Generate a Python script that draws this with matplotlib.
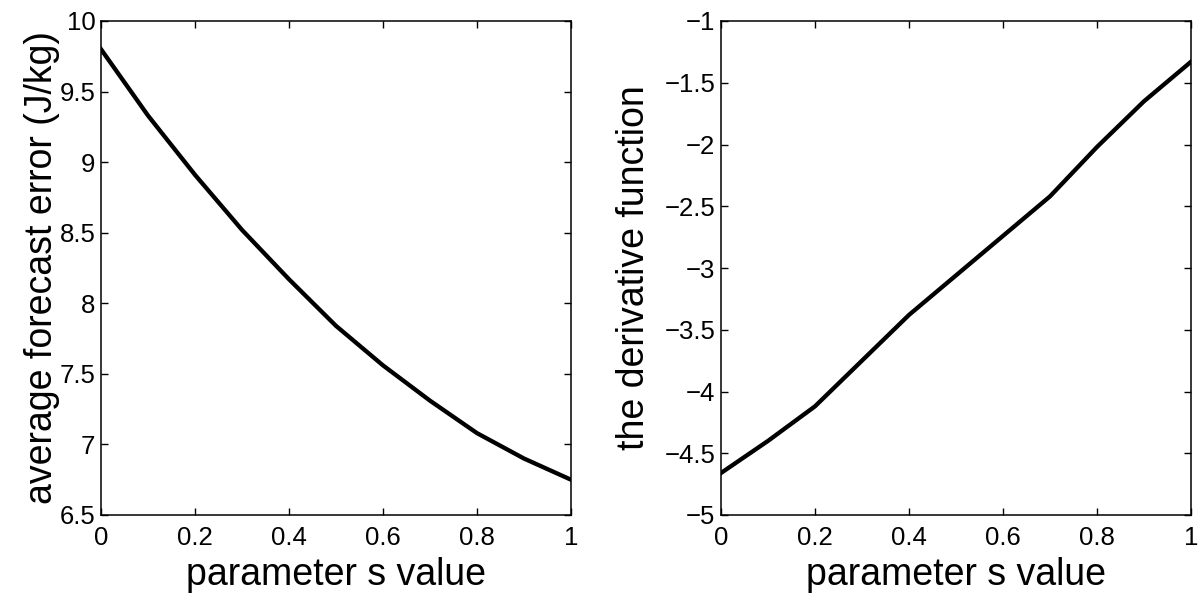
import matplotlib.pyplot as plt

plt.rcParams["font.family"] = ["Liberation Sans", "DejaVu Sans"]

s_values = [0.0, 0.1, 0.2, 0.3, 0.4, 0.5, 0.6, 0.7, 0.8, 0.9, 1.0]
forecast_error = [9.80, 9.33, 8.91, 8.52, 8.17, 7.84, 7.56, 7.31, 7.08, 6.90, 6.75]
derivative = [-4.66, -4.40, -4.12, -3.75, -3.38, -3.06, -2.74, -2.42, -2.02, -1.65, -1.33]

x_ticks = [0, 0.2, 0.4, 0.6, 0.8, 1]
x_tick_labels = ["0", "0.2", "0.4", "0.6", "0.8", "1"]
left_yticks = [6.5, 7, 7.5, 8, 8.5, 9, 9.5, 10]
left_ytick_labels = ["6.5", "7", "7.5", "8", "8.5", "9", "9.5", "10"]
right_yticks = [-5, -4.5, -4, -3.5, -3, -2.5, -2, -1.5, -1]
right_ytick_labels = ["\u22125", "\u22124.5", "\u22124", "\u22123.5", "\u22123",
                      "\u22122.5", "\u22122", "\u22121.5", "\u22121"]


def style_axes(ax):
    ax.tick_params(direction="in", length=5, width=1, top=True, right=True,
                   labelsize=18.5)
    ax.tick_params(axis="y", pad=4)
    ax.tick_params(axis="x", pad=8)
    for sp in ax.spines.values():
        sp.set_linewidth(1.1)


fig = plt.figure(figsize=(11.99, 6.0), dpi=100)
ax1 = fig.add_axes([101 / 1199, 85 / 600, 470 / 1199, 494 / 600])
ax2 = fig.add_axes([721 / 1199, 85 / 600, 470 / 1199, 494 / 600])

ax1.plot(s_values, forecast_error, color="black", linewidth=3.1)
ax1.set_xlim(0, 1)
ax1.set_ylim(6.5, 10)
ax1.set_xticks(x_ticks, x_tick_labels)
ax1.set_yticks(left_yticks, left_ytick_labels)
ax1.set_xlabel("parameter s value", fontsize=27, labelpad=5)
ax1.set_ylabel("average forecast error (J/kg)", fontsize=27, labelpad=0)
style_axes(ax1)

ax2.plot(s_values, derivative, color="black", linewidth=3.1)
ax2.set_xlim(0, 1)
ax2.set_ylim(-5, -1)
ax2.set_xticks(x_ticks, x_tick_labels)
ax2.set_yticks(right_yticks, right_ytick_labels)
ax2.set_xlabel("parameter s value", fontsize=27, labelpad=5)
ax2.set_ylabel("the derivative function", fontsize=27, labelpad=9)
style_axes(ax2)

fig.savefig("out.png", dpi=100)
